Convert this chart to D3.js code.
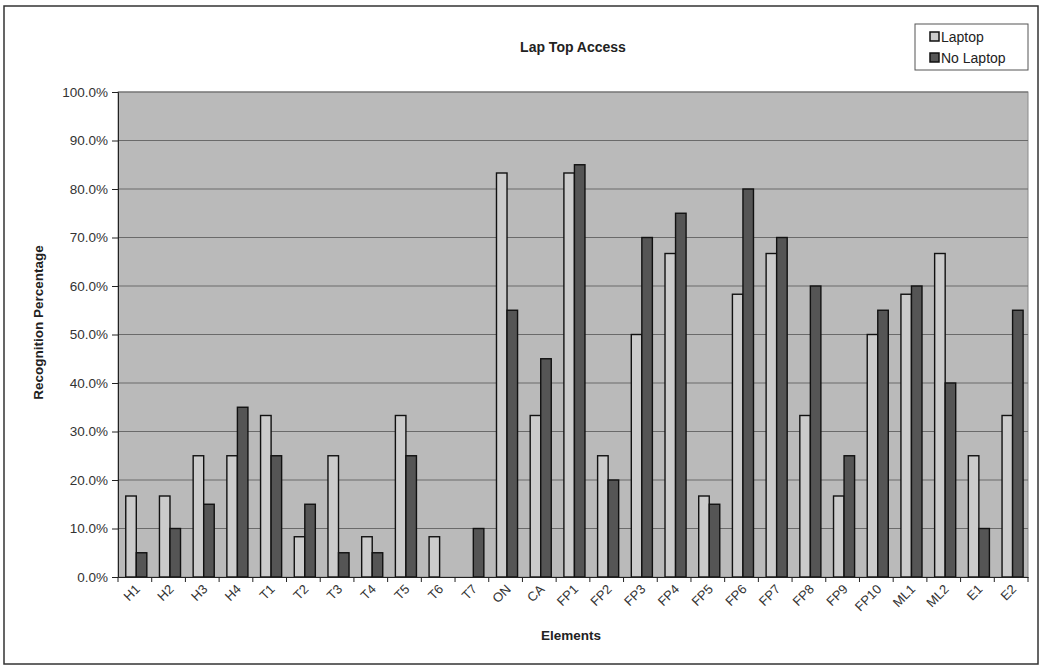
<!DOCTYPE html>
<html>
<head>
<meta charset="utf-8">
<script src="https://cdn.jsdelivr.net/npm/d3@7"></script>
<style>
  body { margin: 0; background: #fff; }
  svg { display: block; font-family: "Liberation Sans", Arial, sans-serif; }
</style>
</head>
<body>
<svg class="chart" width="1042" height="669"></svg>
<script>
// Data
const categories = ['H1', 'H2', 'H3', 'H4', 'T1', 'T2', 'T3', 'T4', 'T5', 'T6', 'T7', 'ON', 'CA',
  'FP1', 'FP2', 'FP3', 'FP4', 'FP5', 'FP6', 'FP7', 'FP8', 'FP9', 'FP10', 'ML1', 'ML2', 'E1', 'E2'];
const laptop = [16.7, 16.7, 25.0, 25.0, 33.3, 8.3, 25.0, 8.3, 33.3, 8.3, 0, 83.3, 33.3,
  83.3, 25.0, 50.0, 66.7, 16.7, 58.3, 66.7, 33.3, 16.7, 50.0, 58.3, 66.7, 25.0, 33.3];
const noLaptop = [5.0, 10.0, 15.0, 35.0, 25.0, 15.0, 5.0, 5.0, 25.0, 0, 10.0, 55.0, 45.0,
  85.0, 20.0, 70.0, 75.0, 15.0, 80.0, 70.0, 60.0, 25.0, 55.0, 60.0, 40.0, 10.0, 55.0];
const seriesNames = ['Laptop', 'No Laptop'];
const yTicks = [0, 10, 20, 30, 40, 50, 60, 70, 80, 90, 100];

const colors = { 'Laptop': '#cbcbcb', 'No Laptop': '#555555' };

// Layout
const margin = { top: 92, right: 14, bottom: 92, left: 118 };
const svg = d3.select('.chart');
const W = +svg.attr('width'), H = +svg.attr('height');
const width = W - margin.left - margin.right;
const height = H - margin.top - margin.bottom;

// Outer frame
svg.append('rect')
  .attr('x', 4).attr('y', 6).attr('width', 1034).attr('height', 658)
  .attr('fill', '#fff').attr('stroke', '#333').attr('stroke-width', 1.5);

const chart = svg.append('g').attr('transform', `translate(${margin.left},${margin.top})`);

// Scales
const x0 = d3.scaleBand().domain(categories).range([0, width]).padding(0);
const bw = x0.bandwidth();
const x1 = d3.scaleBand().domain(seriesNames).range([bw * 0.23, bw * 0.855]).padding(0);
const y = d3.scaleLinear().domain([0, 100]).range([height, 0]);

// Plot background
chart.append('rect')
  .attr('width', width).attr('height', height)
  .attr('fill', '#bababa').attr('stroke', '#8a8a8a');

// Gridlines
chart.append('g')
  .selectAll('line')
  .data(yTicks.slice(1))
  .enter().append('line')
  .attr('x1', 0).attr('x2', width)
  .attr('y1', d => y(d)).attr('y2', d => y(d))
  .attr('stroke', '#6a6a6a').attr('stroke-width', 1);

// Bars
const rows = categories.map((c, i) => ({ cat: c, values: [
  { key: 'Laptop', v: laptop[i] }, { key: 'No Laptop', v: noLaptop[i] }] }));

chart.append('g')
  .selectAll('g')
  .data(rows)
  .enter().append('g')
  .attr('transform', d => `translate(${x0(d.cat)},0)`)
  .selectAll('rect')
  .data(d => d.values.filter(e => e.v > 0))
  .enter().append('rect')
  .attr('x', d => x1(d.key))
  .attr('y', d => y(d.v))
  .attr('width', x1.bandwidth())
  .attr('height', d => height - y(d.v))
  .attr('fill', d => colors[d.key])
  .attr('stroke', '#111').attr('stroke-width', 1.4);

// Y axis
const yAxis = d3.axisLeft(y).tickValues(yTicks).tickSize(6).tickPadding(4)
  .tickFormat(d => d3.format('.1f')(d) + '%');
const gy = chart.append('g').call(yAxis);
gy.select('.domain').attr('stroke', '#222');
gy.selectAll('line').attr('stroke', '#222');
gy.selectAll('text').attr('font-size', 13.5).attr('fill', '#333');

// X axis
const xAxis = d3.axisBottom(x0).tickSize(0).tickPadding(0);
const gx = chart.append('g').attr('transform', `translate(0,${height})`).call(xAxis);
gx.select('.domain').attr('stroke', '#222');
gx.selectAll('text')
  .attr('font-size', 13).attr('fill', '#333')
  .attr('text-anchor', 'end')
  .attr('dy', null).attr('y', null)
  .attr('transform', 'translate(6,13) rotate(-45)');
// tick marks at category boundaries
gx.append('g').selectAll('line')
  .data(categories.concat(['_end']))
  .enter().append('line')
  .attr('x1', (d, i) => i * x0.step()).attr('x2', (d, i) => i * x0.step())
  .attr('y1', 0).attr('y2', 5)
  .attr('stroke', '#222');

// Titles
svg.append('text')
  .attr('x', margin.left + width / 2).attr('y', 52)
  .attr('text-anchor', 'middle').attr('font-size', 14).attr('font-weight', 'bold').attr('fill', '#222')
  .text('Lap Top Access');

svg.append('text')
  .attr('x', margin.left + width / 2 - 2).attr('y', 640)
  .attr('text-anchor', 'middle').attr('font-size', 13.5).attr('font-weight', 'bold').attr('fill', '#222')
  .text('Elements');

svg.append('text')
  .attr('transform', `translate(43,${margin.top + height / 2 - 12}) rotate(-90)`)
  .attr('text-anchor', 'middle').attr('font-size', 13.5).attr('font-weight', 'bold').attr('fill', '#222')
  .text('Recognition Percentage');

// Legend
const legend = svg.append('g').attr('transform', 'translate(915,24)');
legend.append('rect')
  .attr('width', 113).attr('height', 46)
  .attr('fill', '#fff').attr('stroke', '#555');
const items = legend.selectAll('g.item')
  .data(seriesNames)
  .enter().append('g')
  .attr('class', 'item')
  .attr('transform', (d, i) => `translate(16,${13 + i * 21})`);
items.append('rect')
  .attr('x', -1).attr('y', -5).attr('width', 9).attr('height', 9)
  .attr('fill', d => colors[d]).attr('stroke', '#111').attr('stroke-width', 1.5);
items.append('text')
  .attr('x', 10).attr('y', 5)
  .attr('font-size', 14).attr('fill', '#222')
  .text(d => d);
</script>
</body>
</html>
